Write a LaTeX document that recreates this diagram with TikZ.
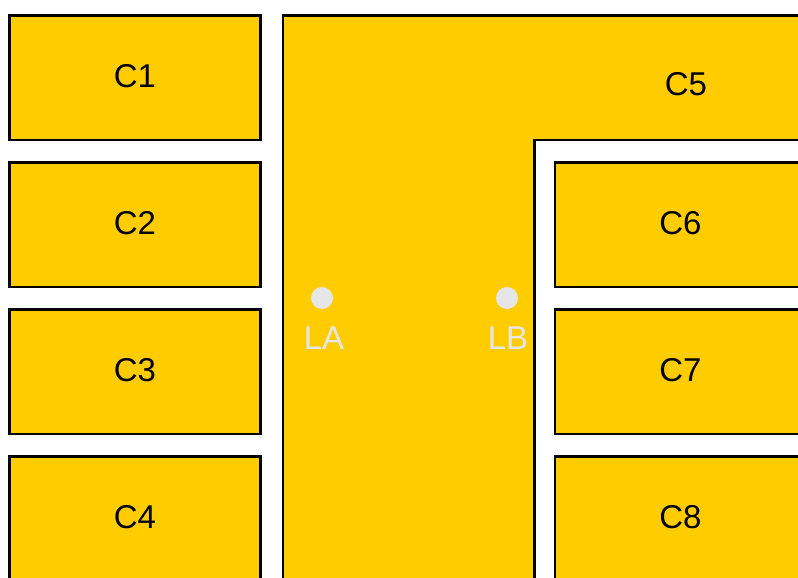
\documentclass[tikz,border=0pt]{standalone}
\usepackage{fontspec}
\setmainfont{Liberation Sans}
\definecolor{cellyellow}{HTML}{FFCC00}
\definecolor{markgray}{HTML}{E6E6E6}
\begin{document}
\begin{tikzpicture}[x=1pt,y=-1pt,
  cell/.style={draw=black, fill=cellyellow, line width=2.5pt, outer sep=0pt,
    minimum width=251pt, minimum height=124.5pt, inner sep=0pt, text depth=4pt,
    font=\fontsize{33}{33}\selectfont},
  cellshape/.style={draw=black, fill=cellyellow, line width=2.5pt},
  celllabel/.style={inner sep=0pt, font=\fontsize{33}{33}\selectfont},
  spot/.style={circle, fill=markgray, minimum size=22pt, inner sep=0pt},
  spotlabel/.style={inner sep=0pt, text=markgray, font=\fontsize{33}{33}\selectfont}]
\clip (0,0) rectangle (798,578);
% left column
\node[cell] (C1) at (135,77.75) {C1};
\node[cell] (C2) at (135,224.75) {C2};
\node[cell] (C3) at (135,371.75) {C3};
\node[cell] (C4) at (135,518.75) {C4};
% C5 L-shape
\draw[cellshape] (283,600) -- (283,15.5) -- (820,15.5) -- (820,140) -- (534.5,140) -- (534.5,600) -- cycle;
\node[celllabel] (C5) at (686,84) {C5};
% right column
\node[cell] (C6) at (680.5,224.75) {C6};
\node[cell] (C7) at (680.5,371.75) {C7};
\node[cell] (C8) at (680.5,518.75) {C8};
% points
\node[spot] (LA) at (322,298) {};
\node[spot] (LB) at (507,298) {};
\node[spotlabel] (LAt) at (324,338) {LA};
\node[spotlabel] (LBt) at (508,338) {LB};
\end{tikzpicture}
\end{document}
